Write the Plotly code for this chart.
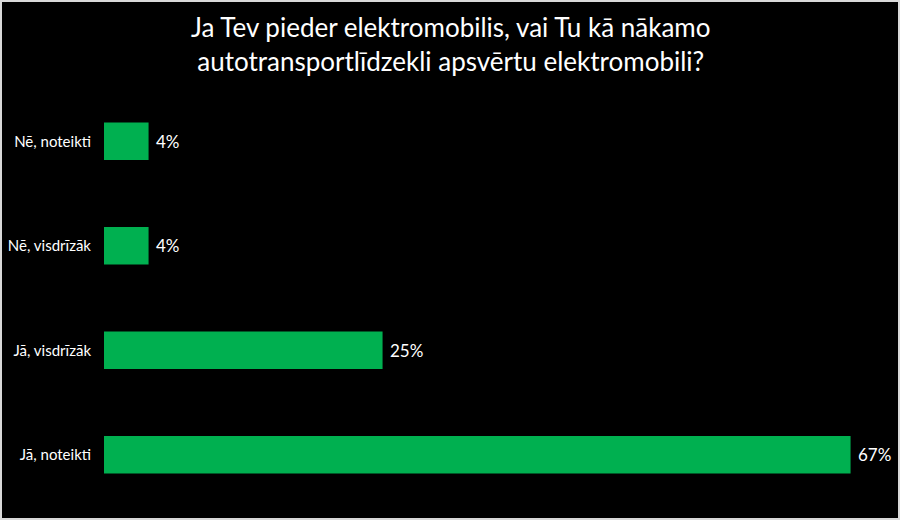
import plotly.graph_objects as go

# Dati
kategorijas = ['Jā, noteikti', 'Jā, visdrīzāk', 'Nē, visdrīzāk', 'Nē, noteikti']
vertibas = [67, 25, 4, 4]
etiketes = ['67%', '25%', '4%', '4%']
virsraksts = 'Ja Tev pieder elektromobilis, vai Tu kā nākamo<br>autotransportlīdzekli apsvērtu elektromobili?'

W, H = 900, 520
ml, mr, mt, mb = 104, 16, 89, 13
pw = W - ml - mr
ph = H - mt - mb

fig = go.Figure(go.Bar(
    x=vertibas, y=kategorijas, orientation='h',
    marker=dict(color='#00B050', line=dict(width=0)),
    text=etiketes, texttemplate=' %{text}', textposition='outside',
    textfont=dict(color='white', size=17, family='Lato'),
    cliponaxis=False,
))

fig.update_layout(
    width=W, height=H,
    paper_bgcolor='black', plot_bgcolor='black',
    margin=dict(l=ml, r=mr, t=mt, b=mb),
    bargap=0.64,
    showlegend=False,
    xaxis=dict(range=[0, 70], visible=False, fixedrange=True, automargin=False),
    yaxis=dict(
        tickfont=dict(color='white', size=15, family='Lato'),
        showgrid=False, showline=False, ticks='', ticklabelstandoff=12,
        fixedrange=True, automargin=False,
    ),
    annotations=[dict(
        text=virsraksts, xref='paper', yref='paper',
        x=(W / 2 - ml) / pw, y=1 + (mt - 44) / ph,
        xanchor='center', yanchor='middle', showarrow=False,
        font=dict(color='white', size=26, family='Lato'),
    )],
    shapes=[dict(
        type='rect', xref='paper', yref='paper',
        x0=-(ml - 1) / pw, x1=1 + (mr - 1) / pw,
        y0=-(mb - 1) / ph, y1=1 + (mt - 1) / ph,
        line=dict(color='#d9d9d9', width=2), layer='above',
    )],
)

fig.write_html("out.html", config={'displayModeBar': False},
               post_script="document.body.style.margin='0';")
